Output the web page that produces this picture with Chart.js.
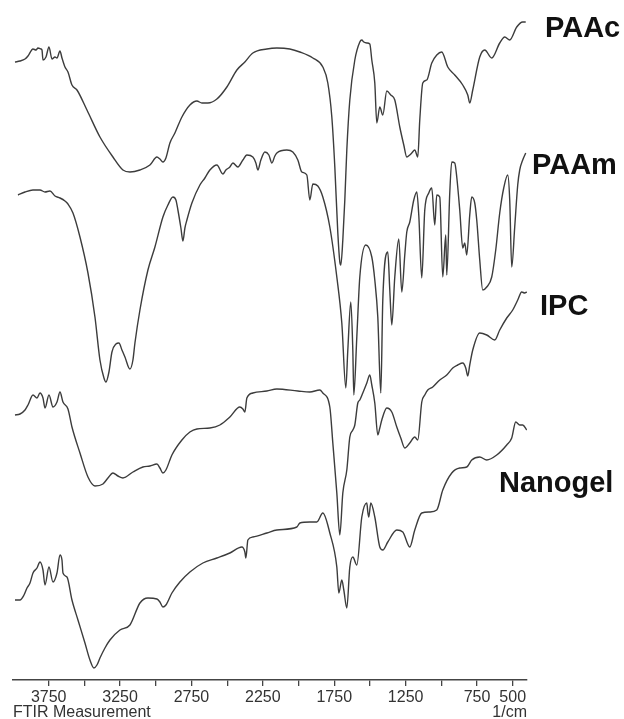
<!DOCTYPE html>
<html>
<head>
<meta charset="utf-8">
<script src="https://cdn.jsdelivr.net/npm/chart.js@4.4.1/dist/chart.umd.min.js"></script>
<style>
  html, body { margin: 0; padding: 0; background: #fff; }
  #wrap { width: 624px; height: 719px; }
</style>
</head>
<body>
<div id="wrap"><canvas id="ftirChart" width="624" height="719"></canvas></div>
<script>
// spectra, wavenumber (1/cm) and offset transmittance (a.u.)
var seriesNames = ["PAAc", "PAAm", "IPC", "Nanogel"];

var paacWn = [3986,3951,3916,3895,3860,3839,3825,3804,3797,3790,3769,3748,3727,3706,3692,3671,3657,3636,3615,3587,3552,3482,3391,3300,3230,3181,3111,3041,2992,2971,2950,2929,2901,2866,2817,2761,2712,2677,2635,2572,2502,2432,2376,2320,2222,2152,2061,1991,1900,1830,1795,1767,1746,1725,1711,1704,1690,1676,1662,1641,1606,1571,1557,1543,1522,1501,1487,1466,1452,1431,1410,1382,1354,1326,1291,1263,1242,1221,1207,1186,1165,1151,1130,1102,1067,1032,997,955,906,850,815,801,780,731,696,647,591,556,521,472,430,409];
var paacT = [618,619,621,624,631,630,632,631,630,620,623,633,621,623,622,629,622,613,608,595,590,570,543,523,510,508,510,515,523,521,518,522,537,547,563,575,579,577,577,581,593,610,618,627,631,632,631,628,622,613,597,563,513,447,418,415,440,480,530,580,620,638,640,638,637,636,620,597,557,573,565,589,585,580,553,535,523,525,527,530,523,560,597,600,617,625,628,613,605,595,585,577,590,623,630,622,637,643,640,653,658,658];

var paamWn = [3965,3916,3860,3811,3776,3741,3706,3671,3636,3615,3580,3531,3475,3426,3391,3363,3349,3328,3307,3279,3258,3237,3216,3181,3160,3146,3111,3055,3006,2950,2915,2880,2859,2845,2824,2810,2796,2782,2747,2691,2656,2621,2572,2530,2509,2481,2460,2425,2390,2362,2320,2299,2285,2264,2236,2208,2187,2166,2152,2082,2040,2005,1977,1942,1921,1900,1865,1830,1781,1732,1697,1669,1655,1634,1620,1613,1592,1571,1529,1487,1466,1445,1424,1410,1375,1361,1347,1326,1298,1277,1256,1242,1221,1193,1172,1158,1137,1116,1088,1067,1046,1032,1011,990,969,962,941,927,906,892,871,850,836,822,801,787,766,752,731,710,682,647,619,591,563,535,521,507,486,465,451,430,409];
var paamT = [485,488,490,490,488,489,484,482,479,476,467,443,407,363,320,302,298,308,328,336,337,330,323,311,320,337,370,410,433,463,475,483,480,470,452,439,452,460,477,495,502,510,515,506,510,513,517,513,520,525,523,517,510,520,528,525,517,524,527,530,528,520,508,505,480,496,494,483,453,403,357,292,330,378,330,285,343,403,435,423,400,363,287,380,428,390,355,403,441,388,425,448,458,480,488,465,402,470,487,492,455,485,483,403,445,405,487,518,517,503,470,432,437,425,465,483,477,460,420,390,393,403,430,467,492,505,480,413,453,495,510,520,527];

var ipcWn = [3986,3951,3916,3895,3860,3832,3811,3790,3776,3748,3720,3692,3671,3650,3615,3587,3531,3475,3426,3370,3335,3300,3265,3230,3160,3090,3041,2992,2971,2950,2929,2887,2817,2761,2712,2621,2551,2481,2411,2390,2376,2362,2320,2222,2152,2005,1921,1851,1830,1781,1760,1732,1711,1690,1662,1641,1620,1606,1585,1571,1550,1522,1501,1487,1466,1445,1431,1417,1382,1347,1312,1284,1256,1221,1186,1165,1137,1116,1095,1060,1011,962,920,885,850,829,815,801,780,731,682,626,591,542,500,465,437,416,402];
var ipcT = [265,266,270,275,285,282,287,282,272,285,273,278,288,278,271,253,227,203,194,196,202,207,204,202,208,213,214,216,212,207,210,225,240,248,251,252,255,263,273,271,268,282,287,289,291,289,288,290,287,273,237,187,145,187,210,243,250,255,277,280,287,297,305,295,277,245,252,260,272,268,253,242,232,237,243,240,278,285,290,293,300,305,312,315,317,312,304,315,330,347,345,340,350,362,370,380,388,387,388];

var nanoWn = [3986,3951,3923,3902,3881,3860,3832,3811,3790,3776,3748,3720,3692,3671,3657,3650,3622,3587,3545,3496,3461,3433,3412,3391,3356,3321,3251,3181,3111,3055,2992,2971,2950,2929,2887,2831,2761,2670,2572,2481,2397,2376,2369,2355,2320,2222,2152,2012,1991,1921,1872,1830,1781,1732,1718,1697,1683,1662,1641,1620,1592,1557,1522,1515,1508,1494,1466,1431,1410,1375,1312,1270,1221,1186,1137,1081,1032,990,927,871,822,787,731,682,612,542,507,479,451,430,402];
var nanoT = [80,80,85,92,97,107,112,118,110,95,113,98,107,125,120,107,103,80,60,37,20,12,15,22,32,40,50,55,77,82,81,78,73,75,87,98,108,117,122,127,133,128,122,140,143,147,150,153,157,158,158,167,147,113,87,100,90,72,113,123,115,163,177,168,163,177,163,133,130,138,150,148,133,150,167,168,170,190,207,212,213,220,223,220,225,235,242,258,255,255,250];

var xTicks = [3750,3500,3250,3000,2750,2500,2250,2000,1750,1500,1250,1000,750,500];
var xTickLabels = ["3750","","3250","","2750","","2250","","1750","","1250","","750","500"];

function toPoints(wn, t) {
  var pts = [];
  for (var i = 0; i < wn.length; i++) {
    pts.push({ x: wn[i], y: t[i] });
  }
  return pts;
}

var lineColor = "#3c3c3c";
var allWn = [paacWn, paamWn, ipcWn, nanoWn];
var allT = [paacT, paamT, ipcT, nanoT];
var datasets = [];
for (var s = 0; s < seriesNames.length; s++) {
  datasets.push({
    label: seriesNames[s],
    data: toPoints(allWn[s], allT[s]),
    borderColor: lineColor,
    borderWidth: 1.4,
    pointRadius: 0,
    fill: false,
    cubicInterpolationMode: "monotone"
  });
}

// series names on the right, and the axis captions under the ticks
var labelPlugin = {
  id: "ftirLabels",
  afterDraw: function (chart) {
    var ctx = chart.ctx;
    var area = chart.chartArea;
    var labelX = [18, 5, 13, -28];
    var labelY = [29, 166, 307, 484];
    ctx.save();
    ctx.fillStyle = "#111";
    ctx.font = "bold 29px 'Liberation Sans', Arial, sans-serif";
    ctx.textBaseline = "middle";
    ctx.textAlign = "left";
    for (var i = 0; i < seriesNames.length; i++) {
      ctx.fillText(seriesNames[i], area.right + labelX[i], labelY[i]);
    }
    ctx.fillStyle = "#333";
    ctx.font = "16px 'Liberation Sans', Arial, sans-serif";
    ctx.fillText("FTIR Measurement", area.left, area.bottom + 33);
    ctx.textAlign = "right";
    ctx.fillText("1/cm", area.right, area.bottom + 33);
    ctx.restore();
  }
};

var chart = document.getElementById("ftirChart").getContext("2d");
var myChart = new Chart(chart, {
  type: "line",
  data: { datasets: datasets },
  options: {
    responsive: false,
    animation: false,
    layout: { padding: { left: 13, right: 97, top: 0, bottom: 0 } },
    plugins: {
      legend: { display: false },
      tooltip: { enabled: false }
    },
    scales: {
      x: {
        type: "linear",
        reverse: true,
        min: 400,
        max: 4000,
        afterBuildTicks: function (scale) {
          scale.ticks = xTicks.map(function (v) { return { value: v }; });
        },
        afterFit: function (scale) {
          scale.height = 39;
        },
        ticks: {
          autoSkip: false,
          maxRotation: 0,
          padding: 2,
          color: "#333",
          font: { family: "'Liberation Sans', Arial, sans-serif", size: 16 },
          callback: function (value) {
            var i = xTicks.indexOf(value);
            return i >= 0 ? xTickLabels[i] : "";
          }
        },
        grid: {
          drawOnChartArea: false,
          drawTicks: true,
          tickLength: 6,
          color: "#444",
          lineWidth: 1.3
        },
        border: { display: true, color: "#444", width: 1.6 }
      },
      y: {
        display: false,
        min: 0,
        max: 680
      }
    }
  },
  plugins: [labelPlugin]
});
</script>
</body>
</html>
